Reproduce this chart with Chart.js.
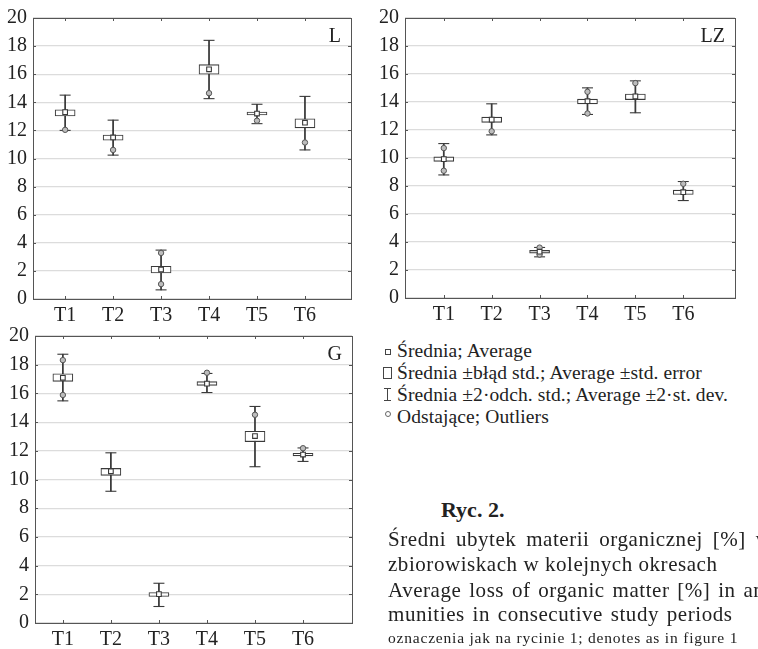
<!DOCTYPE html>
<html>
<head>
<meta charset="utf-8">
<script src="https://cdn.jsdelivr.net/npm/chart.js@4.4.1/dist/chart.umd.min.js"></script>
<style>
  html, body { margin: 0; padding: 0; background: #fff; }
  body { width: 758px; height: 649px; overflow: hidden; position: relative; font-family: "Liberation Serif", "Times New Roman", serif; color: #222; }
  .panel { position: absolute; }
  #legend { position: absolute; left: 382px; top: 339px; font-size: 19.5px; line-height: 20px; letter-spacing: 0.1px; white-space: nowrap; }
  #legend .sym { display: inline-block; width: 11px; margin-right: 4px; text-align: center; vertical-align: 2px; }
  .sq { display: inline-block; width: 4px; height: 4px; border: 1px solid #444; }
  .bx { display: inline-block; width: 7px; height: 10px; border: 1px solid #444; vertical-align: -2px; }
  .wh { display: inline-block; width: 7px; height: 11px; border-top: 1px solid #444; border-bottom: 1px solid #444; position: relative; vertical-align: -2px; }
  .wh::after { content: ""; position: absolute; left: 3px; top: 0; width: 1px; height: 11px; background: #444; }
  .ci { display: inline-block; width: 4px; height: 4px; border: 1px solid #666; border-radius: 50%; vertical-align: 4px; }
  .cap { position: absolute; left: 388px; font-size: 21px; line-height: 24px; letter-spacing: 0.55px; white-space: nowrap; }
  .ryc { position: absolute; left: 441px; font-size: 22px; line-height: 24px; font-weight: bold; white-space: nowrap; }
  .small { position: absolute; left: 388px; font-size: 15.5px; line-height: 18px; letter-spacing: 0.8px; white-space: nowrap; }
</style>
</head>
<body>
<canvas id="chartL" class="panel" style="left:0;top:0" width="378" height="326"></canvas>
<canvas id="chartLZ" class="panel" style="left:378px;top:0" width="380" height="326"></canvas>
<canvas id="chartG" class="panel" style="left:0;top:318px" width="378" height="331"></canvas>

<div id="legend">
  <div><span class="sym"><span class="sq"></span></span>Średnia; Average</div>
  <div><span class="sym"><span class="bx"></span></span>Średnia ±błąd std.; Average ±std. error</div>
  <div><span class="sym"><span class="wh"></span></span>Średnia ±2·odch. std.; Average ±2·st. dev.</div>
  <div><span class="sym"><span class="ci"></span></span>Odstające; Outliers</div>
</div>

<div class="ryc" style="top:498px">Ryc. 2.</div>
<div class="cap" style="top:527px; word-spacing:4px">Średni ubytek materii organicznej [%] w</div>
<div class="cap" style="top:552px">zbiorowiskach w kolejnych okresach</div>
<div class="cap" style="top:578px; word-spacing:2px">Average loss of organic matter [%] in analysed com</div>
<div class="cap" style="top:602px; word-spacing:2px">munities in consecutive study periods</div>
<div class="small" style="top:629px">oznaczenia jak na rycinie 1; denotes as in figure 1</div>

<script>
const categories = ['T1', 'T2', 'T3', 'T4', 'T5', 'T6'];
const yTicks = [0, 2, 4, 6, 8, 10, 12, 14, 16, 18, 20];

// L
const meanL = [13.3, 11.5, 2.1, 16.35, 13.2, 12.55];
const seLowL = [13.03, 11.3, 1.85, 16.0, 13.1, 12.18];
const seHighL = [13.47, 11.67, 2.33, 16.68, 13.31, 12.83];
const sdLowL = [12.0, 10.24, 0.65, 14.26, 12.48, 10.61];
const sdHighL = [14.51, 12.73, 3.48, 18.41, 13.86, 14.42];
const outliersL = [[12.04], [10.61], [3.28, 1.06], [14.65], [12.69], [11.14]];

// LZ
const meanLZ = [9.92, 12.74, 3.31, 14.06, 14.40, 7.56];
const seLowLZ = [9.76, 12.55, 3.21, 13.87, 14.17, 7.40];
const seHighLZ = [10.08, 12.92, 3.40, 14.20, 14.57, 7.70];
const sdLowLZ = [8.79, 11.65, 2.94, 13.11, 13.23, 6.96];
const sdHighLZ = [11.03, 13.87, 3.61, 15.01, 15.51, 8.32];
const outliersLZ = [[10.71, 9.09], [11.91], [3.6, 3.1], [14.73, 13.18], [15.35], [8.16]];

// G
const meanG = [17.09, 10.57, 2.01, 16.68, 13.03, 11.74];
const seLowG = [16.84, 10.29, 1.85, 16.56, 12.64, 11.65];
const seHighG = [17.37, 10.77, 2.12, 16.82, 13.36, 11.83];
const sdLowG = [15.48, 9.18, 1.15, 16.06, 10.89, 11.26];
const sdHighG = [18.73, 11.86, 2.77, 17.39, 15.09, 12.20];
const outliersG = [[18.32, 15.89], [], [], [17.44], [14.51], [12.18]];

const ink = '#3a3a3a';
const serif = '"Liberation Serif", "Times New Roman", serif';

// frame round the plot, inward ticks and the panel letter
const framePlugin = {
  id: 'frame',
  beforeDatasetsDraw(chart, args, opts) {
    const { ctx, chartArea: a, scales } = chart;
    ctx.save();
    ctx.strokeStyle = '#555';
    ctx.lineWidth = 1;
    ctx.strokeRect(Math.round(a.left) + 0.5, Math.round(a.top) + 0.5, Math.round(a.right - a.left), Math.round(a.bottom - a.top));
    ctx.beginPath();
    categories.forEach((c, i) => {
      const x = Math.round(scales.x.getPixelForValue(i + 1)) + 0.5;
      ctx.moveTo(x, a.top); ctx.lineTo(x, a.top + 3);
      ctx.moveTo(x, a.bottom); ctx.lineTo(x, a.bottom - 3);
    });
    yTicks.forEach(v => {
      const y = Math.round(scales.y.getPixelForValue(v)) + 0.5;
      ctx.moveTo(a.left, y); ctx.lineTo(a.left + 3, y);
      ctx.moveTo(a.right, y); ctx.lineTo(a.right - 3, y);
    });
    ctx.stroke();
    ctx.restore();
  },
  afterDraw(chart, args, opts) {
    const { ctx, chartArea: a } = chart;
    ctx.save();
    ctx.font = '20px ' + serif;
    ctx.fillStyle = '#222';
    ctx.textAlign = 'right';
    ctx.textBaseline = 'alphabetic';
    ctx.fillText(opts.label, a.right - 10, a.top + 24);
    ctx.restore();
  }
};

function makePanel(id, label, mean, seLow, seHigh, sdLow, sdHigh, outliers, xMin, xMax, yWidth, xHeight, padding) {
  const stems = categories.map((c, i) => ({ x: i + 1, y: [sdLow[i], sdHigh[i]] }));
  const boxes = categories.map((c, i) => ({ x: i + 1, y: [seLow[i], seHigh[i]] }));
  const caps = [];
  categories.forEach((c, i) => {
    caps.push({ x: i + 1, y: sdLow[i] });
    caps.push({ x: i + 1, y: sdHigh[i] });
  });
  const outs = [];
  outliers.forEach((list, i) => list.forEach(v => outs.push({ x: i + 1, y: v })));
  const means = categories.map((c, i) => ({ x: i + 1, y: mean[i] }));

  new Chart(document.getElementById(id).getContext('2d'), {
    type: 'bar',
    data: {
      datasets: [
        { type: 'scatter', data: means, pointStyle: 'rect', pointRadius: 3.3, backgroundColor: '#fff', borderColor: ink, borderWidth: 1.1, order: 0 },
        { type: 'scatter', data: outs, pointStyle: 'circle', pointRadius: 2.7, backgroundColor: '#bdbdbd', borderColor: '#555', borderWidth: 1, order: 1 },
        { type: 'bar', data: boxes, barThickness: 20, grouped: false, backgroundColor: '#fff', borderColor: ink, borderWidth: 1.1, borderSkipped: false, order: 2 },
        { type: 'scatter', data: caps, pointStyle: 'line', pointRadius: 5.5, borderColor: ink, borderWidth: 1.1, order: 3 },
        { type: 'bar', data: stems, barThickness: 1.1, grouped: false, backgroundColor: ink, borderWidth: 0, order: 4 }
      ]
    },
    options: {
      responsive: false,
      animation: false,
      events: [],
      layout: { autoPadding: false, padding: padding },
      plugins: {
        legend: { display: false },
        tooltip: { enabled: false },
        frame: { label: label }
      },
      scales: {
        x: {
          type: 'linear',
          min: xMin,
          max: xMax,
          offset: false,
          grid: { display: false, drawTicks: false },
          border: { display: false },
          afterBuildTicks: s => { s.ticks = categories.map((c, i) => ({ value: i + 1 })); },
          afterFit: s => { s.height = xHeight; },
          ticks: {
            autoSkip: false,
            maxRotation: 0,
            padding: 5,
            color: '#222',
            font: { family: serif, size: 20 },
            callback: v => categories[Math.round(v) - 1]
          }
        },
        y: {
          min: 0,
          max: 20,
          grid: { color: '#dcdcdc', lineWidth: 1.2, drawTicks: false },
          border: { display: false },
          afterBuildTicks: s => { s.ticks = yTicks.map(v => ({ value: v })); },
          afterFit: s => { s.width = yWidth; },
          ticks: {
            padding: 6,
            color: '#222',
            font: { family: serif, size: 20 }
          }
        }
      }
    },
    plugins: [framePlugin]
  });
}

function drawAll() {
  makePanel('chartL', 'L', meanL, seLowL, seHighL, sdLowL, sdHighL, outliersL, 0.33, 6.96, 33, 27, { top: 9, right: 27, left: 0, bottom: 0 });
  makePanel('chartLZ', 'LZ', meanLZ, seLowLZ, seHighLZ, sdLowLZ, sdHighLZ, outliersLZ, 0.19, 7.08, 27, 28, { top: 9, right: 23, left: 0, bottom: 0 });
  makePanel('chartG', 'G', meanG, seLowG, seHighG, sdLowG, sdHighG, outliersG, 0.42, 7.02, 35, 26, { top: 15, right: 26, left: 0, bottom: 0 });
}

document.fonts.load('20px "Liberation Serif"').then(drawAll, drawAll);
</script>
</body>
</html>
